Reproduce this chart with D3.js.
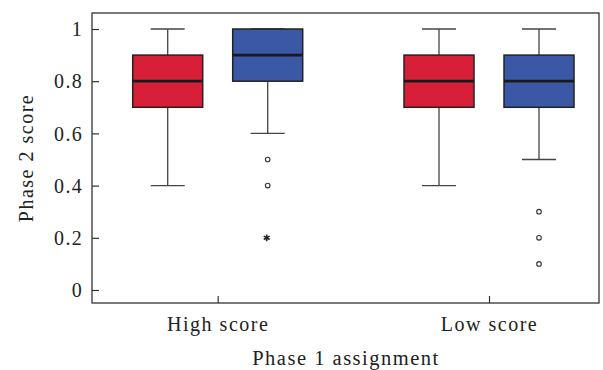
<!DOCTYPE html>
<html><head><meta charset="utf-8">
<script src="https://cdn.jsdelivr.net/npm/d3@7"></script>
<style>body{margin:0;background:#fff}svg{display:block}</style>
</head><body><svg id="c" width="603" height="370"></svg>
<script>
const categories = ["High score", "Low score"];
const series = ["High", "Low"];
const colors = ["#d81f38", "#3b58a6"];
// [min whisker, q1, median, q3, max whisker]
const highScoreStats = [[0.4, 0.7, 0.8, 0.9, 1.0], [0.6, 0.8, 0.9, 1.0, 1.0]];
const lowScoreStats = [[0.4, 0.7, 0.8, 0.9, 1.0], [0.5, 0.7, 0.8, 0.9, 1.0]];
const highScoreOutliers = [[], [{v:0.5,t:"o"},{v:0.4,t:"o"},{v:0.2,t:"*"}]];
const lowScoreOutliers = [[], [{v:0.3,t:"o"},{v:0.2,t:"o"},{v:0.1,t:"o"}]];
const yTicks = [0, 0.2, 0.4, 0.6, 0.8, 1];

const stats = [highScoreStats, lowScoreStats];
const outliers = [highScoreOutliers, lowScoreOutliers];

const svg = d3.select("#c");
const L = 92, R = 599, T = 13, B = 303;
const x = d3.scalePoint().domain(categories).range([217.7, 489]);
const xs = d3.scaleBand().domain(series).range([-85, 85]).paddingInner(0.3);
const y = d3.scaleLinear().domain([0, 1]).range([290, 29]);
const font = "'Liberation Serif', 'Times New Roman', serif";

// frame
svg.append("rect").attr("x", L).attr("y", T).attr("width", R - L).attr("height", B - T)
  .attr("fill", "none").attr("stroke", "#333").attr("stroke-width", 1.3);

// y axis
const ya = svg.append("g").attr("transform", `translate(${L},0)`)
  .call(d3.axisRight(y).tickValues(yTicks).tickSize(7).tickFormat(d3.format("~g")));
ya.select(".domain").remove();
ya.selectAll("line").attr("stroke", "#333").attr("stroke-width", 1.2);
ya.selectAll("text").attr("x", -9).attr("text-anchor", "end").attr("dy", "0.33em")
  .attr("font-family", font).attr("font-size", 20).attr("letter-spacing", 1.3).attr("fill", "#222");

// x axis
const xa = svg.append("g").attr("transform", `translate(0,${B})`)
  .call(d3.axisTop(x).tickSize(7));
xa.select(".domain").remove();
xa.selectAll("line").attr("stroke", "#333").attr("stroke-width", 1.2);
xa.selectAll("text").attr("y", 28).attr("dy", 0)
  .attr("font-family", font).attr("font-size", 20).attr("letter-spacing", 1.5).attr("fill", "#222");

// titles
svg.append("text").attr("x", 346).attr("y", 365).attr("text-anchor", "middle")
  .attr("font-family", font).attr("font-size", 20.5).attr("letter-spacing", 1.5).attr("fill", "#222").text("Phase 1 assignment");
svg.append("text").attr("transform", "translate(33,158) rotate(-90)").attr("text-anchor", "middle")
  .attr("font-family", font).attr("font-size", 20).attr("letter-spacing", 1.5).attr("fill", "#222").text("Phase 2 score");

// boxes
categories.forEach((cat, ci) => {
  series.forEach((s, si) => {
    const st = stats[ci][si];
    const x0 = x(cat) + xs(s), bw = xs.bandwidth(), cx = x0 + bw / 2;
    const g = svg.append("g");
    const wc = "#444";
    g.append("line").attr("x1", cx).attr("x2", cx).attr("y1", y(st[0])).attr("y2", y(st[1])).attr("stroke", wc).attr("stroke-width", 1.3);
    g.append("line").attr("x1", cx).attr("x2", cx).attr("y1", y(st[3])).attr("y2", y(st[4])).attr("stroke", wc).attr("stroke-width", 1.3);
    [st[0], st[4]].forEach(v => g.append("line").attr("x1", cx - 17).attr("x2", cx + 17)
      .attr("y1", y(v)).attr("y2", y(v)).attr("stroke", wc).attr("stroke-width", 1.3));
    g.append("rect").attr("x", x0).attr("y", y(st[3])).attr("width", bw).attr("height", y(st[1]) - y(st[3]))
      .attr("fill", colors[si]).attr("stroke", "#222").attr("stroke-width", 1.5);
    g.append("line").attr("x1", x0).attr("x2", x0 + bw).attr("y1", y(st[2])).attr("y2", y(st[2]))
      .attr("stroke", "#1a1a1a").attr("stroke-width", 2.8);
    outliers[ci][si].forEach(o => {
      if (o.t === "o") {
        g.append("circle").attr("cx", cx).attr("cy", y(o.v)).attr("r", 2.3)
          .attr("fill", "#fff").attr("stroke", "#333").attr("stroke-width", 1.1);
      } else {
        const r = 3.4;
        const d = [0, 60, 120].map(a => {
          const rad = (a + 90) * Math.PI / 180;
          const dx = r * Math.cos(rad), dy = r * Math.sin(rad);
          return `M${-dx},${-dy}L${dx},${dy}`;
        }).join("");
        g.append("path").attr("transform", `translate(${cx - 1},${y(o.v)})`)
          .attr("d", d).attr("stroke", "#222").attr("stroke-width", 1.6).attr("fill", "none");
      }
    });
  });
});
</script></body></html>
